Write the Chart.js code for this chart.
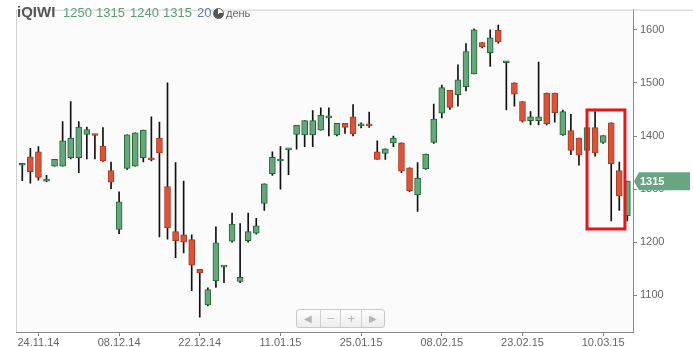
<!DOCTYPE html>
<html>
<head>
<meta charset="utf-8">
<script src="https://cdn.jsdelivr.net/npm/chart.js@4"></script>
<style>
  html, body { margin: 0; padding: 0; background: #fff; }
  #wrap { position: relative; width: 693px; height: 347px; font-family: "Liberation Sans", Arial, sans-serif; }
  #chart { position: absolute; left: 0; top: 0; }
  #head span { position: absolute; top: 5px; line-height: 15px; font-size: 13px; white-space: nowrap; }
  #head .name { color: #555; font-weight: bold; font-size: 15px; top: 4px; }
  #head .v { color: #5d9c7a; }
  #head .tf { color: #6b7d98; }
  #head .clock { top: 8px; width: 9px; height: 9px; border-radius: 50%; border: 1.5px solid #555;
    background: conic-gradient(#fff 0 25%, #555 25% 100%); }
  #head .per { color: #666; font-size: 11px; top: 6px; }
  #nav { position: absolute; left: 296px; top: 309px; width: 89px; height: 19px; border: 1px solid #c9c9c9;
    border-radius: 3px; background: linear-gradient(#fdfdfd, #ededed); display: flex; box-sizing: border-box; }
  #nav span { display: flex; align-items: center; justify-content: center; color: #b5b5b5; font-size: 10px;
    border-left: 1px solid #d0d0d0; }
  #nav span:first-child { border-left: none; }
</style>
</head>
<body>
<div id="wrap">
  <canvas id="chart" width="693" height="347"></canvas>
  <div id="head">
    <span class="name" style="left:17px">iQIWI</span>
    <span class="v" style="left:63px">1250</span>
    <span class="v" style="left:96px">1315</span>
    <span class="v" style="left:130px">1240</span>
    <span class="v" style="left:163px">1315</span>
    <span class="tf" style="left:197px">20</span>
    <span class="clock" style="left:213px"></span>
    <span class="per" style="left:226px">день</span>
  </div>
  <div id="nav"><span style="width:24px">&#9664;</span><span style="width:21px;font-size:13px">&minus;</span><span style="width:21px;font-size:13px">+</span><span style="width:23px">&#9654;</span></div>
</div>
<script>
// свечи iQIWI, дневной таймфрейм
const open  = [1345,1361,1370,1315,1343,1343,1359,1359,1403,1402,1381,1335,1224,1339,1343,1359,1356,1396,1305,1220,
               1214,1205,1149,1082,1127,1153,1202,1126,1203,1217,1273,1329,1353,1374,1403,1402,1402,1411,1434,1402,
               1424,1436,1419,1421,1370,1367,1387,1387,1340,1289,1338,1388,1443,1486,1478,1493,1517,1576,1557,1599,
               1538,1500,1465,1429,1429,1481,1481,1402,1410,1396,1373,1416,1388,1425,1335,1250];
const high  = [1347,1377,1380,1326,1356,1427,1465,1427,1417,1403,1416,1351,1295,1402,1406,1411,1436,1426,1500,1350,
               1315,1214,1149,1114,1229,1155,1255,1235,1255,1245,1310,1370,1380,1376,1420,1429,1448,1453,1453,1424,
               1424,1459,1425,1445,1391,1376,1400,1387,1340,1350,1366,1460,1496,1486,1534,1574,1602,1576,1600,1609,
               1540,1500,1465,1446,1539,1481,1481,1449,1441,1396,1416,1446,1401,1425,1351,1315];
const low   = [1316,1311,1317,1314,1343,1343,1357,1331,1357,1357,1352,1301,1216,1337,1343,1351,1353,1210,1206,1171,
               1180,1109,1059,1080,1115,1124,1200,1124,1200,1215,1260,1326,1300,1327,1375,1380,1380,1411,1400,1400,
               1405,1400,1415,1416,1356,1356,1380,1331,1295,1258,1337,1386,1434,1450,1456,1485,1517,1566,1531,1575,
               1449,1456,1426,1421,1421,1421,1426,1401,1365,1345,1373,1362,1386,1240,1260,1240];
const close = [1347,1333,1322,1316,1356,1391,1396,1417,1412,1401,1353,1313,1276,1402,1406,1411,1355,1368,1227,1203,
               1200,1157,1142,1111,1199,1155,1234,1134,1220,1231,1310,1360,1355,1376,1420,1429,1429,1439,1436,1424,
               1416,1404,1421,1419,1356,1376,1396,1334,1297,1321,1366,1432,1491,1454,1506,1559,1600,1568,1585,1577,
               1540,1479,1428,1436,1436,1423,1444,1446,1373,1364,1416,1368,1401,1348,1287,1315];

const xTickIndex  = [2, 12, 22, 32, 42, 52, 62, 72];
const xTickLabels = ['24.11.14', '08.12.14', '22.12.14', '11.01.15', '25.01.15', '08.02.15', '23.02.15', '10.03.15'];
const yTicks = [1100, 1200, 1300, 1400, 1500, 1600];

// выделенная область (индексы свечей и цены)
const boxIdx = [70, 74.7];
const boxPrice = [1225, 1449];

const up = close.map((c, i) => c >= open[i]);
const bodyFill = up.map(u => u ? '#68a57f' : '#d9543a');
const bodyLine = up.map(u => u ? '#1d6a2c' : '#a63b1e');

const wicks = high.map((h, i) => ({ x: i, y: [low[i], h] }));
const bodies = open.map((o, i) => ({ x: i, y: [o, close[i]] }));

const frame = {
  id: 'frame',
  beforeDatasetsDraw(chart) {
    const a = chart.chartArea, ctx = chart.ctx;
    ctx.save();
    ctx.fillStyle = '#fbfbfb';
    ctx.fillRect(a.left, a.top, a.right - a.left, a.bottom - a.top);
    ctx.restore();
  },
  afterDraw(chart) {
    const a = chart.chartArea, ctx = chart.ctx;
    const xs = chart.scales.x, ys = chart.scales.y;
    ctx.save();
    // рамка сверху и слева
    ctx.strokeStyle = '#cfcfcf';
    ctx.lineWidth = 1;
    ctx.beginPath();
    ctx.moveTo(a.left + 0.5, a.bottom);
    ctx.lineTo(a.left + 0.5, a.top + 0.5);
    ctx.lineTo(chart.width, a.top + 0.5);
    ctx.stroke();
    // красный прямоугольник
    const x1 = xs.getPixelForValue(boxIdx[0]), x2 = xs.getPixelForValue(boxIdx[1]);
    const y1 = ys.getPixelForValue(boxPrice[1]), y2 = ys.getPixelForValue(boxPrice[0]);
    ctx.strokeStyle = '#e3171b';
    ctx.lineWidth = 3;
    ctx.strokeRect(x1, y1, x2 - x1, y2 - y1);
    // метка последней цены
    const last = close[close.length - 1];
    const y = ys.getPixelForValue(last);
    ctx.fillStyle = '#67a583';
    ctx.beginPath();
    ctx.moveTo(a.right + 1, y);
    ctx.lineTo(a.right + 6, y - 9);
    ctx.lineTo(690, y - 9);
    ctx.lineTo(690, y + 9);
    ctx.lineTo(a.right + 6, y + 9);
    ctx.closePath();
    ctx.fill();
    ctx.fillStyle = '#fff';
    ctx.font = 'bold 11px "Liberation Sans", Arial, sans-serif';
    ctx.textBaseline = 'middle';
    ctx.fillText(String(last), a.right + 7, y + 0.5);
    ctx.restore();
  }
};

new Chart(document.getElementById('chart').getContext('2d'), {
  type: 'bar',
  data: {
    datasets: [
      {
        data: bodies,
        order: 1,
        grouped: false,
        barThickness: 6,
        minBarLength: 2,
        backgroundColor: bodyFill,
        borderColor: bodyLine,
        borderWidth: 1,
        borderSkipped: false
      },
      {
        data: wicks,
        order: 2,
        grouped: false,
        barThickness: 1,
        backgroundColor: '#111',
        borderWidth: 0
      }
    ]
  },
  options: {
    responsive: false,
    animation: false,
    events: [],
    layout: { padding: { left: 16, top: 3, right: 0, bottom: 0 } },
    plugins: { legend: { display: false }, tooltip: { enabled: false } },
    scales: {
      x: {
        type: 'linear',
        min: -0.78,
        max: 75.7,
        offset: false,
        afterFit: s => { s.height = 15; },
        afterBuildTicks: s => { s.ticks = xTickIndex.map(v => ({ value: v })); },
        grid: { offset: false, color: '#cfcfcf', tickColor: '#888', tickLength: 4, tickBorderDash: [] },
        border: { display: true, color: '#8a8a8a', dash: [2, 2] },
        ticks: {
          padding: 0,
          autoSkip: false,
          maxRotation: 0,
          color: '#666',
          font: { family: '"Liberation Sans", Arial, sans-serif', size: 11 },
          callback: v => xTickLabels[xTickIndex.indexOf(v)]
        }
      },
      y: {
        type: 'linear',
        position: 'right',
        min: 1031,
        max: 1638,
        afterFit: s => { s.width = 60; },
        afterBuildTicks: s => { s.ticks = yTicks.map(v => ({ value: v })); },
        grid: { color: '#cfcfcf', tickColor: '#888', tickLength: 4, tickBorderDash: [] },
        border: { display: true, color: '#8a8a8a', dash: [2, 2] },
        ticks: {
          padding: 3,
          color: '#666',
          font: { family: '"Liberation Sans", Arial, sans-serif', size: 11 },
          callback: v => String(v)
        }
      }
    }
  },
  plugins: [frame]
});
</script>
</body>
</html>
